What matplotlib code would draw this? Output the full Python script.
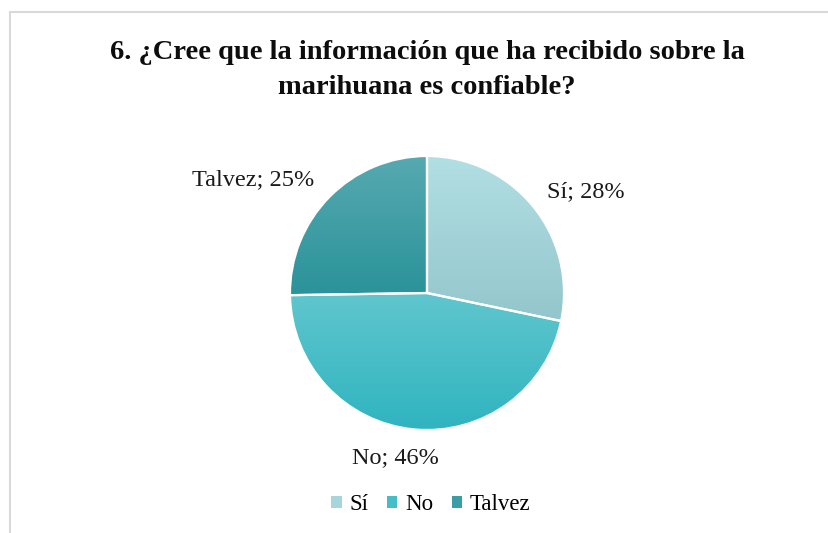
import numpy as np
import matplotlib.pyplot as plt
from matplotlib.colors import LinearSegmentedColormap
from matplotlib.patches import Patch
from matplotlib.lines import Line2D

plt.rcParams['font.family'] = ['Liberation Serif', 'DejaVu Serif']

title = "6. ¿Cree que la información que ha recibido sobre la\nmarihuana es confiable?"
categories = ["Sí", "No", "Talvez"]
percents = [28, 46, 25]

# gradient colours per slice (top, bottom)
grad_top = ["#b2dfe3", "#60c6cd", "#58a9b1"]
grad_bottom = ["#93c6cc", "#2fb4c0", "#2a9399"]
legend_colors = ["#a6d6da", "#45bec8", "#3a9ea5"]

# label placement: distance from centre and angle shift (deg)
label_dist = [1.38, 1.21, 1.52]
label_shift = [-6, -5.5, 11]

fig = plt.figure(figsize=(8.29, 5.33), dpi=100)

# chart-area border (only top/left visible)
fig.add_artist(Line2D([10/829, 1.0], [1 - 12/533, 1 - 12/533],
                      transform=fig.transFigure, color="#d9d9d9", lw=1.5))
fig.add_artist(Line2D([10/829, 10/829], [0, 1 - 12/533],
                      transform=fig.transFigure, color="#d9d9d9", lw=1.5))

cx, cy, half = 427, 293, 200
ax = fig.add_axes([(cx - half) / 829, (533 - cy - half) / 533, 2 * half / 829, 2 * half / 533])
R = 137

wedges, _ = ax.pie(percents, radius=R, startangle=90, counterclock=False,
                   wedgeprops=dict(facecolor="none", edgecolor="white", linewidth=1.6))

for i, w in enumerate(wedges):
    ax.set_xlim(-half, half)
    ax.set_ylim(-half, half)
    path = w.get_path().transformed(w.get_patch_transform())
    ext = path.get_extents()
    cmap = LinearSegmentedColormap.from_list("g%d" % i, [grad_bottom[i], grad_top[i]])
    grad = np.linspace(0, 1, 256).reshape(-1, 1)
    im = ax.imshow(grad, cmap=cmap, origin="lower", aspect="auto",
                   extent=[ext.x0, ext.x1, ext.y0, ext.y1], zorder=1)
    im.set_clip_path(w)
    w.set_zorder(2)

    mid = np.deg2rad((w.theta1 + w.theta2) / 2 + label_shift[i])
    d = R * label_dist[i]
    ax.text(d * np.cos(mid), d * np.sin(mid) - 2, "%s; %d%%" % (categories[i], percents[i]),
            ha="center", va="center", fontsize=17.5, color="#1a1a1a")

ax.set_xlim(-half, half)
ax.set_ylim(-half, half)
ax.set_aspect("equal")
ax.axis("off")

fig.text(427 / 829, 1 - 70 / 533, title, ha="center", va="center",
         fontsize=20.5, fontweight="bold", linespacing=1.5, color="#0d0d0d")

handles = [Patch(facecolor=c, edgecolor="none") for c in legend_colors]
fig.legend(handles, categories, loc="center", bbox_to_anchor=(431 / 829, 1 - 505 / 533),
           ncol=3, frameon=False, fontsize=16.5, handlelength=0.45, handleheight=0.45,
           handletextpad=0.35, columnspacing=0.8)

fig.savefig("out.png", dpi=100, facecolor="white")
